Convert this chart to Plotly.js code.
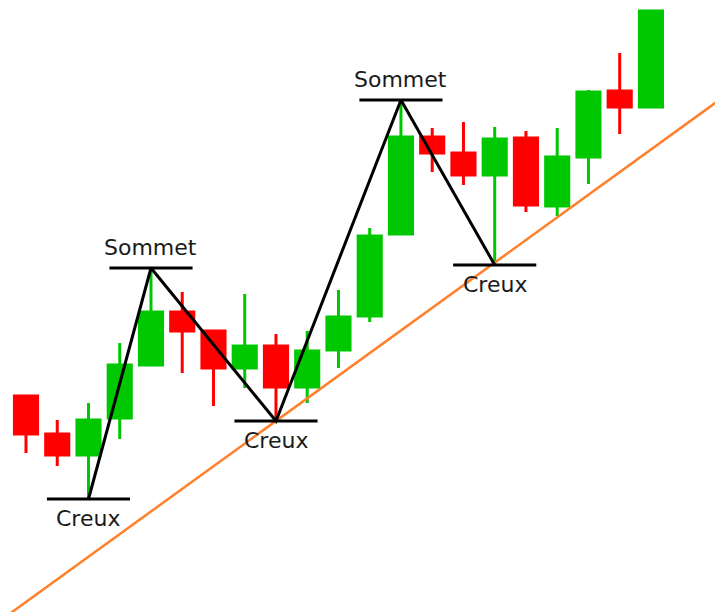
<!DOCTYPE html>
<html>
<head>
<meta charset="utf-8">
<script src="https://cdn.plot.ly/plotly-3.0.1.min.js"></script>
<style>html,body{margin:0;padding:0;background:#fff;}#chart{width:715px;height:612px;}</style>
</head>
<body>
<div id="chart"></div>
<script>
// Candles (index along time, price units)
var idx   = [0,1,2,3,4,5,6,7,8,9,10,11,12,13,14,15,16,17,18,19,20];
var open  = [216,178,157,194,247,300,281,244,266,225,262,296,378,475,459,437,474,406,455,521,505];
var high  = [216,192,209,269,344,320,281,318,278,281,322,384,512,484,490,485,481,484,522,559,601];
var low   = [159,146,113,173,247,239,206,224,191,209,244,290,378,440,427,347,400,396,428,478,505];
var close = [178,157,192,247,300,281,244,266,225,261,295,376,475,459,437,473,407,455,520,505,601];

// Pivots (troughs / peaks)
var pivotIdx   = [2, 4, 8, 12, 15];
var pivotVal   = [113, 344, 191, 512, 347];
var pivotLabel = ['Creux', 'Sommet', 'Creux', 'Sommet', 'Creux'];

// Support trendline endpoints
var trendIdx = [-1, 23];
var trendVal = [-12.6, 530.4];

var GREEN = '#00c800', RED = '#ff0000';

var candles = {
  type: 'candlestick',
  x: idx, open: open, high: high, low: low, close: close,
  increasing: {line: {color: GREEN, width: 3}, fillcolor: GREEN},
  decreasing: {line: {color: RED, width: 3}, fillcolor: RED},
  whiskerwidth: 0,
  hoverinfo: 'skip'
};

var trend = {
  type: 'scatter', mode: 'lines',
  x: trendIdx, y: trendVal,
  line: {color: '#ff7f2a', width: 2.5},
  hoverinfo: 'skip'
};

var zigzag = {
  type: 'scatter', mode: 'lines',
  x: pivotIdx, y: pivotVal,
  line: {color: '#000000', width: 3},
  hoverinfo: 'skip'
};

var hx = [], hy = [];
var HALF = 1.33;
for (var i = 0; i < pivotIdx.length; i++) {
  hx.push(pivotIdx[i] - HALF, pivotIdx[i] + HALF, null);
  hy.push(pivotVal[i], pivotVal[i], null);
}
var levels = {
  type: 'scatter', mode: 'lines',
  x: hx, y: hy,
  line: {color: '#000000', width: 3},
  hoverinfo: 'skip'
};

var annotations = pivotIdx.map(function (p, i) {
  var top = pivotLabel[i] === 'Sommet';
  return {
    x: p, y: pivotVal[i], xref: 'x', yref: 'y',
    text: pivotLabel[i], showarrow: false,
    xanchor: 'center', yanchor: 'middle',
    yshift: top ? 21 : -19,
    font: {family: 'DejaVu Sans', size: 22, color: '#1a1a1a'}
  };
});

var layout = {
  width: 715, height: 612,
  margin: {l: 0, r: 0, t: 0, b: 0},
  paper_bgcolor: '#ffffff', plot_bgcolor: '#ffffff',
  showlegend: false,
  boxgap: 0.26, boxgroupgap: 0,
  xaxis: {range: [-0.832, 22.05], visible: false, rangeslider: {visible: false}, fixedrange: true},
  yaxis: {range: [0, 612], visible: false, fixedrange: true},
  annotations: annotations
};

Plotly.newPlot('chart', [trend, candles, zigzag, levels], layout, {displayModeBar: false, staticPlot: true});
</script>
</body>
</html>
